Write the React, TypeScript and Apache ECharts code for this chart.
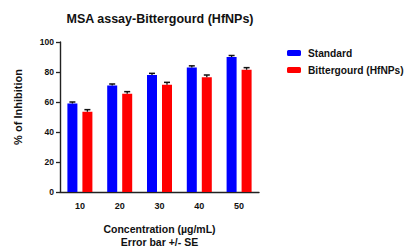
import React, { useEffect, useRef } from "react";
import * as echarts from "echarts";

const categories = ["10", "20", "30", "40", "50"];
const standardValues = [59, 71, 78, 83, 90];
const standardErrors = [1.0, 1.0, 1.1, 1.1, 1.0];
const bitterValues = [53.5, 65.5, 71.5, 76.5, 81.5];
const bitterErrors = [1.4, 1.4, 1.6, 1.5, 1.4];
const yTicks = [0, 20, 40, 60, 80, 100];

const FONT = "'Liberation Sans', Arial, sans-serif";

function errorSeries(name: string, values: number[], errors: number[], offset: number) {
  return {
    type: "custom",
    name: name + "-err",
    z: 5,
    silent: true,
    data: values.map((v, i) => [i, v, errors[i]]),
    renderItem: (params: any, api: any) => {
      const i = api.value(0);
      const v = api.value(1);
      const e = api.value(2);
      const base = api.coord([i, v]);
      const top = api.coord([i, v + e]);
      const x = base[0] + offset;
      const cap = 3;
      return {
        type: "group",
        children: [
          {
            type: "line",
            shape: { x1: x, y1: base[1], x2: x, y2: top[1] },
            style: { stroke: "#111", lineWidth: 1.3 },
          },
          {
            type: "line",
            shape: { x1: x - cap, y1: top[1], x2: x + cap, y2: top[1] },
            style: { stroke: "#111", lineWidth: 1.5 },
          },
        ],
      };
    },
  };
}

export default function App() {
  const ref = useRef<HTMLDivElement>(null);
  useEffect(() => {
    if (!ref.current) return;
    document.body.style.margin = "0";
    const chart = echarts.init(ref.current, undefined, { renderer: "svg" });
    chart.setOption({
      animation: false,
      backgroundColor: "#fff",
      textStyle: { fontFamily: FONT },
      title: {
        text: "MSA assay-Bittergourd (HfNPs)",
        left: 160,
        textAlign: "center",
        top: 12,
        padding: 0,
        textStyle: { fontFamily: FONT, fontSize: 12.5, fontWeight: "bold", color: "#111" },
      },
      legend: {
        left: 287,
        top: 48,
        padding: 0,
        orient: "vertical",
        itemWidth: 14,
        itemHeight: 6,
        itemGap: 7,
        selectedMode: false,
        data: ["Standard", "Bittergourd (HfNPs)"],
        textStyle: { fontFamily: FONT, fontSize: 10.2, fontWeight: "bold", color: "#111", padding: [0, 0, 0, 2] },
      },
      grid: { left: 60, top: 42, width: 199, height: 150, outerBoundsMode: "none", containLabel: false },
      xAxis: {
        type: "category",
        data: categories,
        axisLine: { lineStyle: { color: "#222", width: 1.4 } },
        axisTick: { alignWithLabel: true, length: 4, lineStyle: { color: "#222", width: 1.3 } },
        axisLabel: { margin: 9, fontFamily: FONT, fontSize: 9, fontWeight: "bold", color: "#111" },
        name: "Concentration (µg/mL)\nError bar +/- SE",
        nameLocation: "middle",
        nameGap: 30,
        nameTextStyle: { fontFamily: FONT, fontSize: 10.5, fontWeight: "bold", color: "#111", lineHeight: 13 },
      },
      yAxis: {
        type: "value",
        min: 0,
        max: 100,
        interval: 20,
        splitLine: { show: false },
        axisLine: { show: true, lineStyle: { color: "#222", width: 1.4 } },
        axisTick: { show: true, length: 4, lineStyle: { color: "#222", width: 1.3 } },
        axisLabel: {
          margin: 6,
          fontFamily: FONT,
          fontSize: 8.5,
          fontWeight: "bold",
          color: "#111",
          customValues: yTicks,
        },
      },
      graphic: [
        {
          type: "text",
          x: 18,
          y: 107,
          rotation: Math.PI / 2,
          style: {
            text: "% of Inhibition",
            fontFamily: FONT,
            fontSize: 11,
            fontWeight: "bold",
            fill: "#111",
            align: "center",
            verticalAlign: "middle",
          },
        },
      ],
      series: [
        {
          name: "Standard",
          type: "bar",
          data: standardValues,
          barWidth: 10,
          barGap: "50%",
          itemStyle: { color: "#0000ff" },
        },
        {
          name: "Bittergourd (HfNPs)",
          type: "bar",
          data: bitterValues,
          barWidth: 10,
          barGap: "50%",
          itemStyle: { color: "#ff0000" },
        },
        errorSeries("Standard", standardValues, standardErrors, -7.5),
        errorSeries("Bittergourd (HfNPs)", bitterValues, bitterErrors, 7.5),
      ],
    });
    return () => chart.dispose();
  }, []);
  return <div ref={ref} style={{ width: 410, height: 249 }} />;
}
